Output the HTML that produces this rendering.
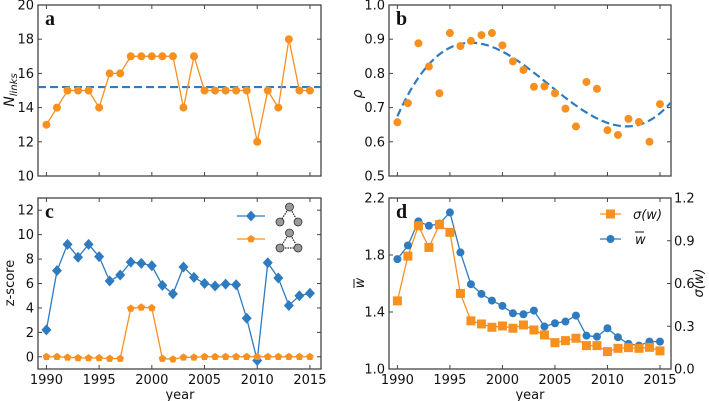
<!DOCTYPE html>
<html><head><meta charset="utf-8"><style>
body{margin:0;background:#fff}
svg{display:block;font-family:"DejaVu Sans","Liberation Sans",sans-serif}
</style></head><body>
<svg id="chart" width="709" height="401" viewBox="0 0 709 401"></svg>
<script>
const years=[1990,1991,1992,1993,1994,1995,1996,1997,1998,1999,2000,2001,2002,2003,2004,2005,2006,2007,2008,2009,2010,2011,2012,2013,2014,2015];
const nLinks=[13,14,15,15,15,14,16,16,17,17,17,17,17,14,17,15,15,15,15,15,12,15,14,18,15,15];
const nLinksMean=15.2;
const rho=[0.657,0.713,0.888,0.820,0.742,0.918,0.880,0.895,0.912,0.918,0.882,0.835,0.810,0.761,0.762,0.742,0.697,0.645,0.775,0.755,0.634,0.620,0.667,0.658,0.600,0.710];
const zOpen=[2.2,7.05,9.2,8.15,9.2,8.2,6.2,6.7,7.75,7.65,7.45,5.85,5.15,7.35,6.5,6.0,5.8,5.95,5.9,3.15,-0.3,7.7,6.45,4.2,5.0,5.2];
const zClosed=[0,0,-0.05,-0.1,-0.1,-0.1,-0.15,-0.15,3.95,4.05,4.0,-0.15,-0.2,-0.05,-0.05,0,0,0,0,0,0,0,0,0,0,0];
const wMean=[1.771,1.867,2.036,2.005,2.02,2.099,1.818,1.595,1.527,1.48,1.443,1.391,1.384,1.41,1.298,1.321,1.333,1.375,1.234,1.227,1.286,1.223,1.176,1.164,1.192,1.192];
const wSigma=[0.478,0.792,1.005,0.853,1.013,0.959,0.53,0.338,0.316,0.293,0.302,0.286,0.309,0.274,0.239,0.185,0.199,0.216,0.164,0.164,0.122,0.145,0.15,0.145,0.152,0.127];
const yearTicks=[1990,1995,2000,2005,2010,2015];
const ticksA=[10,12,14,16,18,20];
const ticksB=[0.5,0.6,0.7,0.8,0.9,1.0];
const ticksC=[0,2,4,6,8,10,12];
const ticksD=[1.0,1.4,1.8,2.2];
const ticksD2=[0.0,0.3,0.6,0.9,1.2];

const BLUE="#2f7bbf",ORANGE="#f7901e",FRAME="#444";
const svg=document.getElementById('chart');
const NS="http://www.w3.org/2000/svg";
function el(tag,attrs,parent){const e=document.createElementNS(NS,tag);for(const k in attrs)e.setAttribute(k,attrs[k]);(parent||svg).appendChild(e);return e;}
function txt(s,attrs,parent){const e=el('text',attrs,parent);e.textContent=s;return e;}

function makePanel(name,L,R,T,B,xmin,xmax,ymin,ymax){
  const g=el('g',{});
  
  
  return {g,L,R,T,B,
    x:v=>L+(v-xmin)/(xmax-xmin)*(R-L),
    y:v=>B-(v-ymin)/(ymax-ymin)*(B-T)};
}
function frame(p,xt,yt,yfmt,showYearLabels,yRight){
  const f=el('rect',{x:p.L,y:p.T,width:p.R-p.L,height:p.B-p.T,fill:'none',stroke:FRAME,'stroke-width':1.3},p.g);
  
  xt.forEach(v=>{const X=p.x(v);
    el('line',{x1:X,x2:X,y1:p.B,y2:p.B-4,stroke:FRAME},p.g);
    el('line',{x1:X,x2:X,y1:p.T,y2:p.T+4,stroke:FRAME},p.g);
    if(showYearLabels){const t=txt(String(v),{x:X,y:p.B+15,'text-anchor':'middle','font-size':13,fill:'#111'},p.g);
      }
  });
  yt.forEach(v=>{const Y=p.y(v);
    el('line',{x1:p.L,x2:p.L+4,y1:Y,y2:Y,stroke:FRAME},p.g);
    if(!yRight) el('line',{x1:p.R,x2:p.R-4,y1:Y,y2:Y,stroke:FRAME},p.g);
    const t=txt(yfmt(v),{x:p.L-4,y:Y+4.5,'text-anchor':'end','font-size':13,fill:'#111'},p.g);
    
  });
}
function line(p,xs,ys,color,w){
  const d=xs.map((v,i)=>(i?'L':'M')+p.x(v).toFixed(1)+','+p.y(ys[i]).toFixed(1)).join('');
  const e=el('path',{d,fill:'none',stroke:color,'stroke-width':w||1.3},p.g);
  return e;
}
function marker(p,X,Y,type,color,parent){
  let e;
  if(type==='circle') e=el('circle',{cx:X,cy:Y,r:4,fill:color},parent||p.g);
  else if(type==='diamond') e=el('path',{d:`M${X},${Y-5.5}L${X+5},${Y}L${X},${Y+5.5}L${X-5},${Y}Z`,fill:color},parent||p.g);
  else if(type==='pent') {const pts=[];for(let k=0;k<5;k++){const a=-Math.PI/2+k*2*Math.PI/5;pts.push((X+4*Math.cos(a)).toFixed(1)+','+(Y+4*Math.sin(a)).toFixed(1));}e=el('polygon',{points:pts.join(' '),fill:color},parent||p.g);}
  else e=el('rect',{x:X-4.5,y:Y-4.5,width:9,height:9,fill:color},parent||p.g);
  return e;
}
function letter(p,s){const t=txt(s,{x:p.L+7,y:p.T+20,'font-size':20,'font-weight':'bold','font-family':'"Liberation Serif",serif',fill:'#111'},p.g);
  }

// ---- Panel a
const A=makePanel('panel-a',38,321,5,176,1989.2,2016.05,10,20);
frame(A,yearTicks,ticksA,v=>String(v),false);
letter(A,'a');
let e=el('line',{x1:A.L,x2:A.R,y1:A.y(nLinksMean),y2:A.y(nLinksMean),stroke:BLUE,'stroke-width':2.2,'stroke-dasharray':'8,4'},A.g);

e=line(A,years,nLinks,ORANGE);
years.forEach((yr,i)=>{const m=marker(A,A.x(yr),A.y(nLinks[i]),'circle',ORANGE);});
e=txt('',{x:14,y:90,'font-size':14,'font-style':'italic',fill:'#111',transform:'rotate(-90 14 90)','text-anchor':'middle'},A.g);
e.innerHTML='N<tspan font-size="10" dy="3">links</tspan>';


// ---- Panel b
const Bp=makePanel('panel-b',389,671,5,176,1989.2,2016.05,0.5,1.0);
frame(Bp,yearTicks,ticksB,v=>v.toFixed(1),false);
letter(Bp,'b');
(function(){
  const n=4,M=[...Array(n)].map(()=>Array(n+1).fill(0));
  years.forEach((yr,i)=>{const t=(yr-2002.5)/12.5;for(let a=0;a<n;a++){for(let b=0;b<n;b++)M[a][b]+=Math.pow(t,a+b);M[a][n]+=Math.pow(t,a)*rho[i];}});
  for(let c=0;c<n;c++){let piv=c;for(let r=c+1;r<n;r++)if(Math.abs(M[r][c])>Math.abs(M[piv][c]))piv=r;[M[c],M[piv]]=[M[piv],M[c]];
    for(let r=0;r<n;r++)if(r!==c){const f=M[r][c]/M[c][c];for(let k=c;k<=n;k++)M[r][k]-=f*M[c][k];}}
  const co=M.map((r,i)=>r[n]/r[i]);
  const xs=[],ys=[];for(let yr=1990;yr<=2016.05;yr+=0.25){const t=(yr-2002.5)/12.5;xs.push(yr);ys.push(co[0]+co[1]*t+co[2]*t*t+co[3]*t*t*t);}
  const f=line(Bp,xs,ys,BLUE,2.2);f.setAttribute('stroke-dasharray','8,4');
  
})();
years.forEach((yr,i)=>{const m=marker(Bp,Bp.x(yr),Bp.y(rho[i]),'circle',ORANGE);});
e=txt('ρ',{x:362,y:94,'font-size':14,'font-style':'italic',fill:'#111',transform:'rotate(-90 362 94)','text-anchor':'middle'},Bp.g);


// ---- Panel c
const C=makePanel('panel-c',38,321,198,369,1989.2,2016.05,-1,13);
frame(C,yearTicks,ticksC,v=>String(v),true);
letter(C,'c');
e=line(C,years,zOpen,BLUE);
e=line(C,years,zClosed,ORANGE);
years.forEach((yr,i)=>{let m=marker(C,C.x(yr),C.y(zOpen[i]),'diamond',BLUE);
  m=marker(C,C.x(yr),C.y(zClosed[i]),'pent',ORANGE);});
e=txt('z-score',{x:14,y:283,'font-size':13,fill:'#111',transform:'rotate(-90 14 283)','text-anchor':'middle'},C.g);

e=txt('year',{x:180,y:399,'font-size':13,fill:'#111','text-anchor':'middle'},C.g);

const lc=el('g',{},C.g);
el('line',{x1:237,x2:265,y1:216,y2:216,stroke:BLUE,'stroke-width':1.3},lc);marker(C,251,216,'diamond',BLUE,lc);
el('line',{x1:237,x2:265,y1:239,y2:239,stroke:ORANGE,'stroke-width':1.3},lc);marker(C,251,239,'pent',ORANGE,lc);
function motif(cy,closed){
  const g=el('g',{},lc);
  const t=[289.5,cy-9],l=[280,cy+6],r=[298,cy+6];
  el('line',{x1:t[0],y1:t[1],x2:l[0],y2:l[1],stroke:'#222','stroke-dasharray':'1.5,1','stroke-width':1.2},g);
  el('line',{x1:t[0],y1:t[1],x2:r[0],y2:r[1],stroke:'#222','stroke-dasharray':'1.5,1','stroke-width':1.2},g);
  if(closed) el('line',{x1:l[0],y1:l[1],x2:r[0],y2:r[1],stroke:'#222','stroke-dasharray':'1.5,1','stroke-width':1.2},g);
  [t,l,r].forEach(p=>el('circle',{cx:p[0],cy:p[1],r:4,fill:'#999',stroke:'#333','stroke-width':0.8},g));
}
motif(216,false);motif(242,true);

// ---- Panel d
const D=makePanel('panel-d',389,671,198,369,1989.2,2016.05,1.0,2.2);
const D2={x:D.x,y:v=>D.B-v/1.2*(D.B-D.T)};
frame(D,yearTicks,ticksD,v=>v.toFixed(1),true,true);
letter(D,'d');
ticksD2.forEach(v=>{const Y=D2.y(v);el('line',{x1:D.R,x2:D.R-4,y1:Y,y2:Y,stroke:FRAME},D.g);
  const t=txt(v.toFixed(1),{x:D.R+3,y:Y+4.5,'font-size':13,fill:'#111'},D.g);});
e=line(D,years,wMean,BLUE);
e=line(D2,years,wSigma,ORANGE);D.g.appendChild(e);
years.forEach((yr,i)=>{let m=marker(D,D.x(yr),D.y(wMean[i]),'circle',BLUE);
  m=marker(D,D.x(yr),D2.y(wSigma[i]),'square',ORANGE);});
e=txt('w',{x:364,y:283,'font-size':13,'font-style':'italic',fill:'#111',transform:'rotate(-90 364 283)','text-anchor':'middle'},D.g);

el('line',{x1:354,x2:354,y1:279,y2:288,stroke:'#111'},D.g);
e=txt('σ(w)',{x:703,y:283,'font-size':13,'font-style':'italic',fill:'#111',transform:'rotate(-90 703 283)','text-anchor':'middle'},D.g);

e=txt('year',{x:530,y:399,'font-size':13,fill:'#111','text-anchor':'middle'},D.g);

const ld=el('g',{},D.g);
el('line',{x1:600,x2:621,y1:214,y2:214,stroke:ORANGE,'stroke-width':1.3},ld);marker(D,610.5,214,'square',ORANGE,ld);
el('line',{x1:600,x2:621,y1:239,y2:239,stroke:BLUE,'stroke-width':1.3},ld);marker(D,610.5,239,'circle',BLUE,ld);
txt('σ(w)',{x:633,y:219,'font-size':13,'font-style':'italic',fill:'#111'},ld);
txt('w',{x:635,y:244,'font-size':13,'font-style':'italic',fill:'#111'},ld);
el('line',{x1:635,x2:644,y1:232,y2:232,stroke:'#111'},ld);
</script>
</body></html>
